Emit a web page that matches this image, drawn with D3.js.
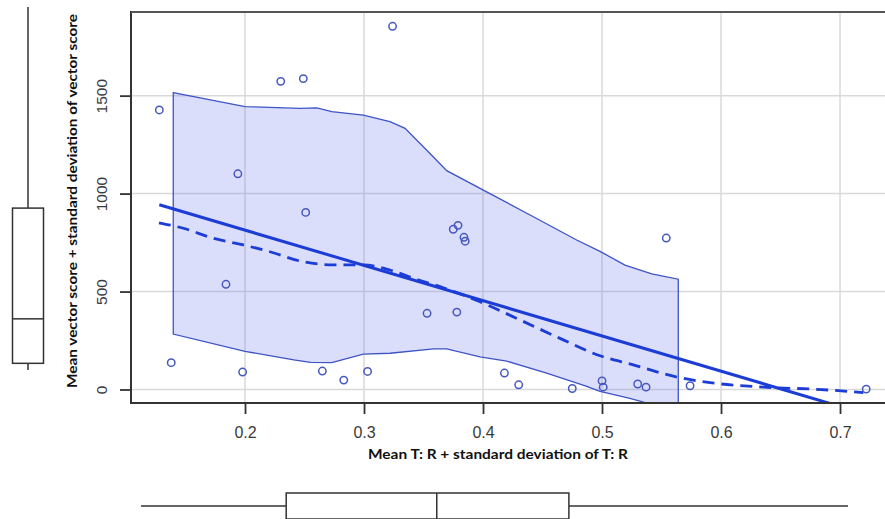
<!DOCTYPE html>
<html>
<head>
<meta charset="utf-8">
<script src="https://cdn.jsdelivr.net/npm/d3@7"></script>
<style>
body { margin: 0; background: #fff; }
</style>
</head>
<body>
<div id="chart"></div>
<script>
var pointsX = [0.128,0.138,0.184,0.194,0.198,0.230,0.249,0.251,0.265,0.283,0.303,0.324,0.353,0.375,0.378,0.379,0.384,0.385,0.418,0.430,0.475,0.500,0.501,0.530,0.537,0.554,0.574,0.722]
var pointsY = [1427,137,537,1101,89,1573,1587,904,94,48,92,1854,389,818,395,838,777,757,84,24,5,44,12,28,12,773,19,2]

var smoothX = [0.1277,0.1482,0.1734,0.1986,0.221,0.249,0.2742,0.2994,0.3218,0.3414,0.3639,0.3975,0.4311,0.4647,0.4983,0.5249,0.5641,0.5908,0.6384,0.6804,0.7196]
var smoothY = [851,823,772,738,703,652,636,636,610,568,525,448,355,261,172,128,62,35,11,1,-16]

var bandUpperX = [0.1397,0.2,0.2462,0.2603,0.2729,0.2994,0.3218,0.3345,0.354,0.3695,0.4003,0.4423,0.4787,0.4983,0.5193,0.5418,0.5641]
var bandUpperY = [1515,1444,1435,1438,1418,1401,1367,1333,1214,1117,1018,882,763,705,635,590,563]
var bandLowerX = [0.1397,0.2,0.241,0.255,0.2729,0.2994,0.3218,0.3586,0.3695,0.3975,0.4199,0.4535,0.486,0.4983,0.5235,0.5641]
var bandLowerY = [283,195,151,138,137,181,185,207,207,167,145,83,18,-10,-45,-115]

var xTicks = [0.2,0.3,0.4,0.5,0.6,0.7]
var yTicks = [0,500,1000,1500]
var xTitle = "Mean T: R + standard deviation of T: R"
var yTitle = "Mean vector score + standard deviation of vector score"

function fivenum(values) {
	var s = values.slice().sort(d3.ascending)
	var n = s.length, half = Math.floor((n + 1) / 2)
	return [s[0], d3.median(s.slice(0, half)), d3.median(s), d3.median(s.slice(n - half)), s[n - 1]]
}

function drawChart() {
	var W = 885, H = 519
	var left = 131, right = 885, top = 12, bottom = 403
	var svg = d3.select("#chart").append("svg").attr("width", W).attr("height", H)
		.style("font-family", "'Liberation Sans', Arial, sans-serif")

	var x = d3.scaleLinear().domain([0.1042, 0.7378]).range([left, right])
	var y = d3.scaleLinear().domain([-69, 1927]).range([bottom, top])

	svg.append("clipPath").attr("id", "plotclip").append("rect")
		.attr("x", left).attr("y", top).attr("width", right - left).attr("height", bottom - top)

	// grid
	svg.append("g").selectAll("line").data(xTicks).join("line")
		.attr("x1", x).attr("x2", x).attr("y1", top).attr("y2", bottom)
		.attr("stroke", "#d9d9d9").attr("stroke-width", 1.5)
	svg.append("g").selectAll("line").data(yTicks).join("line")
		.attr("y1", y).attr("y2", y).attr("x1", left).attr("x2", right)
		.attr("stroke", "#d9d9d9").attr("stroke-width", 1.5)

	var plot = svg.append("g").attr("clip-path", "url(#plotclip)")

	// band
	var upper = bandUpperX.map(function(d, i) { return [x(d), y(bandUpperY[i])] })
	var lower = bandLowerX.map(function(d, i) { return [x(d), y(bandLowerY[i])] }).reverse()
	plot.append("path").attr("d", d3.line()(upper.concat(lower)) + "Z")
		.attr("fill", "rgba(105,118,240,0.24)").attr("stroke", "#3d53c6").attr("stroke-width", 1.3)

	// least squares line
	var mx = d3.mean(pointsX), my = d3.mean(pointsY)
	var sxy = d3.sum(pointsX, function(d, i) { return (d - mx) * (pointsY[i] - my) })
	var sxx = d3.sum(pointsX, function(d) { return (d - mx) * (d - mx) })
	var slope = sxy / sxx, intercept = my - slope * mx
	var ext = d3.extent(pointsX)
	plot.append("line")
		.attr("x1", x(ext[0])).attr("y1", y(intercept + slope * ext[0]))
		.attr("x2", x(ext[1])).attr("y2", y(intercept + slope * ext[1]))
		.attr("stroke", "#1c3cd6").attr("stroke-width", 3)

	// smoother
	var smooth = d3.line().curve(d3.curveMonotoneX).x(function(d) { return x(d) }).y(function(d, i) { return y(smoothY[i]) })
	plot.append("path").attr("d", smooth(smoothX))
		.attr("fill", "none").attr("stroke", "#1c3cd6").attr("stroke-width", 2.8).attr("stroke-dasharray", "12,7")

	plot.append("g").selectAll("circle").data(pointsX).join("circle")
		.attr("cx", function(d) { return x(d) }).attr("cy", function(d, i) { return y(pointsY[i]) })
		.attr("r", 3.7).attr("fill", "none").attr("stroke", "#4658c0").attr("stroke-width", 1.5)

	// frame
	svg.append("line").attr("x1", left).attr("x2", left).attr("y1", top - 1).attr("y2", bottom + 1).attr("stroke", "#333").attr("stroke-width", 2)
	svg.append("line").attr("x1", left).attr("x2", right).attr("y1", top).attr("y2", top).attr("stroke", "#555").attr("stroke-width", 2)
	svg.append("line").attr("x1", left).attr("x2", right).attr("y1", bottom).attr("y2", bottom).attr("stroke", "#333").attr("stroke-width", 2)

	var xAxis = svg.append("g").attr("transform", "translate(0," + bottom + ")")
		.call(d3.axisBottom(x).tickValues(xTicks).tickSize(11).tickSizeOuter(0).tickPadding(13).tickFormat(d3.format(".1f")))
	var yAxis = svg.append("g").attr("transform", "translate(" + left + ",0)")
		.call(d3.axisLeft(y).tickValues(yTicks).tickSize(11).tickSizeOuter(0).tickFormat(d3.format("d")))
	xAxis.select(".domain").remove()
	yAxis.select(".domain").remove()
	svg.selectAll(".tick line").attr("stroke", "#333").attr("stroke-width", 1.8)
	xAxis.selectAll("text").attr("font-size", 16).attr("fill", "#3a3a3a").attr("font-family", "'Liberation Sans', Arial, sans-serif")
	yAxis.selectAll("text").attr("font-size", 15.5).attr("fill", "#3a3a3a").attr("font-family", "'Liberation Sans', Arial, sans-serif")
		.attr("x", 0).attr("y", -24).attr("dy", null).attr("text-anchor", "middle").attr("transform", "rotate(-90)")

	svg.append("text").text(xTitle).attr("x", 498).attr("y", 459).attr("text-anchor", "middle")
		.attr("font-family", "Lato, 'Open Sans', sans-serif").attr("font-weight", 700).attr("font-size", 13.5)
		.attr("textLength", 260).attr("lengthAdjust", "spacingAndGlyphs").attr("fill", "#111")
	svg.append("text").text(yTitle).attr("transform", "translate(77,201) rotate(-90)").attr("text-anchor", "middle")
		.attr("font-family", "Lato, 'Open Sans', sans-serif").attr("font-weight", 700).attr("font-size", 13.5)
		.attr("textLength", 374).attr("lengthAdjust", "spacingAndGlyphs").attr("fill", "#111")

	// marginal boxplots
	var fy = fivenum(pointsY)
	var yBox = d3.scaleLinear().domain([fy[0], fy[4]]).range([370, 7])
	var lb = svg.append("g").attr("stroke", "#333").attr("stroke-width", 1.5).attr("fill", "none")
	lb.append("line").attr("x1", 28).attr("x2", 28).attr("y1", yBox(fy[4])).attr("y2", yBox(fy[3]))
	lb.append("line").attr("x1", 28).attr("x2", 28).attr("y1", yBox(fy[1])).attr("y2", yBox(fy[0]))
	lb.append("rect").attr("x", 12.5).attr("width", 31).attr("y", yBox(fy[3])).attr("height", yBox(fy[1]) - yBox(fy[3])).attr("fill", "#fff")
	lb.append("line").attr("x1", 12.5).attr("x2", 43.5).attr("y1", yBox(fy[2])).attr("y2", yBox(fy[2]))

	var fx = fivenum(pointsX)
	var xBox = d3.scaleLinear().domain([fx[0], fx[4]]).range([141, 848])
	var bb = svg.append("g").attr("stroke", "#333").attr("stroke-width", 1.5).attr("fill", "none")
	bb.append("line").attr("y1", 506).attr("y2", 506).attr("x1", xBox(fx[0])).attr("x2", xBox(fx[1]))
	bb.append("line").attr("y1", 506).attr("y2", 506).attr("x1", xBox(fx[3])).attr("x2", xBox(fx[4]))
	bb.append("rect").attr("y", 493).attr("height", 26).attr("x", xBox(fx[1])).attr("width", xBox(fx[3]) - xBox(fx[1])).attr("fill", "#fff")
	bb.append("line").attr("y1", 493).attr("y2", 519).attr("x1", xBox(fx[2])).attr("x2", xBox(fx[2]))
}

drawChart()
</script>
</body>
</html>
